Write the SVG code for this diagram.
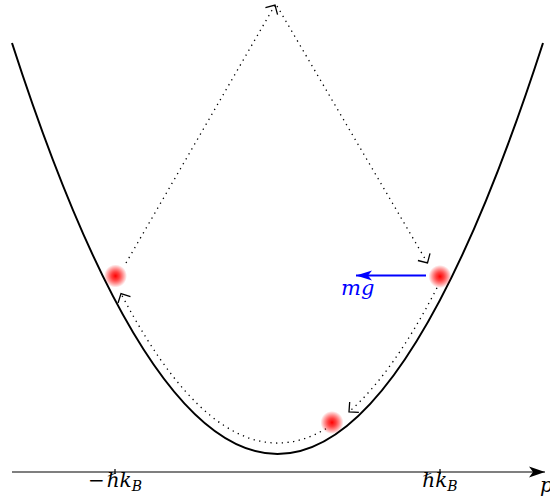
<svg xmlns="http://www.w3.org/2000/svg" width="550" height="502" viewBox="0 0 550 502">
<style>
.curve{fill:none;stroke:#000;stroke-width:2}
.dot{fill:none;stroke:#000;stroke-width:1.3;stroke-dasharray:1.3 4.4}
.axis{fill:none;stroke:#000;stroke-width:1.2}
.lbl{font-family:'DejaVu Serif','Liberation Serif',serif;font-size:20px;fill:#000}
.it{font-style:italic}
</style>
<defs>
<marker id="chev" markerUnits="userSpaceOnUse" markerWidth="20" markerHeight="20" viewBox="-10 -10 20 20" refX="0" refY="0" orient="auto">
<path d="M -7 -7 L 0 0 L -7 7" fill="none" stroke="#000" stroke-width="1.3"/>
</marker>
<marker id="ax" markerUnits="userSpaceOnUse" markerWidth="24" markerHeight="14" viewBox="-18 -7 20 14" refX="0" refY="0" orient="auto">
<path d="M 0 0 L -16 -5.5 L -12 0 L -16 5.5 Z" fill="#000"/>
</marker>
<marker id="bl" markerUnits="userSpaceOnUse" markerWidth="24" markerHeight="14" viewBox="-18 -7 20 14" refX="0" refY="0" orient="auto">
<path d="M 0 0 L -16 -5 L -12 0 L -16 5 Z" fill="#00f"/>
</marker>
<radialGradient id="glow">
<stop offset="0" stop-color="#ff0000" stop-opacity="1"/>
<stop offset="0.35" stop-color="#ff2020" stop-opacity="0.85"/>
<stop offset="1" stop-color="#ff0000" stop-opacity="0"/>
</radialGradient>
</defs>

<g id="axis">
<line class="axis" x1="12" y1="472" x2="545" y2="472" marker-end="url(#ax)"/>
<line class="axis" x1="115" y1="469" x2="115" y2="474"/>
<line class="axis" x1="440" y1="469" x2="440" y2="474"/>
<text class="lbl" x="115" y="487" text-anchor="middle">−<tspan class="it" dx="2">ℏk</tspan><tspan class="it" font-size="14" dy="4">B</tspan></text>
<text class="lbl" x="440" y="487" text-anchor="middle"><tspan class="it">ℏk</tspan><tspan class="it" font-size="14" dy="4">B</tspan></text>
<text class="lbl it" x="540" y="492">p</text>
</g>

<g id="dispersion">
<path class="curve" d="M 12 43 Q 277.5 865 543 43"/>
</g>

<g id="connectors">
<path class="dot" d="M 126 263 L 275 5" marker-end="url(#chev)"/>
<path class="dot" d="M 277 6 L 427.5 263" marker-end="url(#chev)"/>
<path class="dot" d="M 437 287.8 Q 393 373.4 349 411.8" marker-end="url(#chev)"/>
<path class="dot" d="M 326 428.7 Q 223.5 489.3 121 293.6" marker-end="url(#chev)"/>
</g>

<g id="force">
<line x1="426" y1="275.5" x2="356" y2="275.5" stroke="#00f" stroke-width="2" marker-end="url(#bl)"/>
<text class="lbl it" x="341" y="295" style="fill:#00f;font-size:21px">mg</text>
</g>

<g id="atom-left"><circle cx="115.5" cy="276" r="11.5" fill="url(#glow)"/></g>
<g id="atom-right"><circle cx="440" cy="276.5" r="11.5" fill="url(#glow)"/></g>
<g id="atom-bottom"><circle cx="332" cy="422.5" r="11.5" fill="url(#glow)"/></g>
</svg>
